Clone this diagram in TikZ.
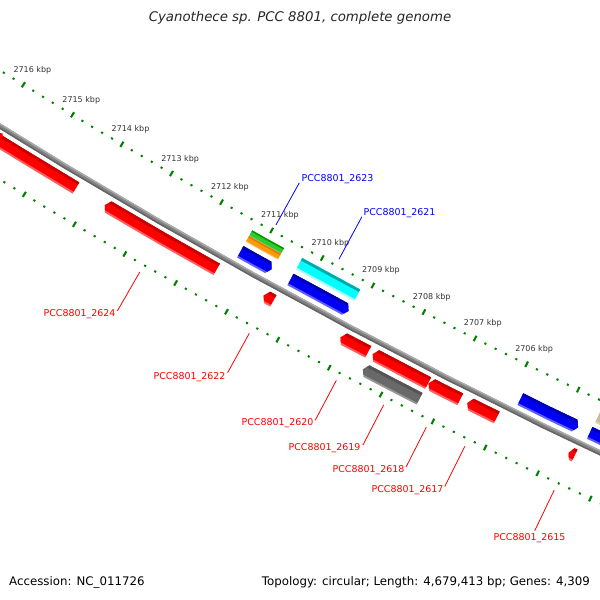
\documentclass[tikz,border=0pt]{standalone}
\usepackage{fontspec}
\setmainfont{DejaVu Sans}
\definecolor{rd}{RGB}{200,0,0}\definecolor{rb}{RGB}{255,0,0}\definecolor{rl}{RGB}{255,95,95}
\definecolor{bd}{RGB}{0,0,175}\definecolor{bb}{RGB}{0,0,245}\definecolor{bl}{RGB}{95,95,255}
\definecolor{cd}{RGB}{0,170,170}\definecolor{cb}{RGB}{0,255,255}\definecolor{cl}{RGB}{170,255,255}
\definecolor{gd}{RGB}{0,150,0}\definecolor{gb}{RGB}{50,200,50}\definecolor{gl}{RGB}{110,220,110}
\definecolor{od}{RGB}{225,120,0}\definecolor{ob}{RGB}{255,153,0}\definecolor{ol}{RGB}{255,190,100}
\definecolor{kd}{RGB}{85,85,85}\definecolor{kb}{RGB}{105,105,105}\definecolor{kl}{RGB}{150,150,150}
\definecolor{yd}{RGB}{160,155,115}\definecolor{yb}{RGB}{195,190,150}\definecolor{yl}{RGB}{215,212,180}
\definecolor{tk}{RGB}{0,128,0}
\definecolor{bbm}{RGB}{130,130,130}\definecolor{bbt}{RGB}{170,170,170}\definecolor{bbd}{RGB}{100,100,100}
\definecolor{labblue}{RGB}{0,0,255}\definecolor{labred}{RGB}{255,0,0}
% feature: #1 left angle, #2 right angle, #3 inner r, #4 outer r, #5 left tip, #6 right tip, #7 dark, #8 base, #9 light
\newcommand\feat[9]{%
 \pgfmathsetmacro\ftm{(#1+#2)/2}%
 \pgfmathsetmacro\ftc{(#3+#4)/2}%
 \pgfmathsetmacro\fta{#1+#5}%
 \pgfmathsetmacro\ftb{#2-#6}%
 \pgfmathsetmacro\ftea{#1+0.15}%
 \pgfmathsetmacro\fteb{#2-0.15}%
 \pgfmathsetmacro\ftd{#3+0.22*(#4-#3)}%
 \pgfmathsetmacro\ftl{#4-0.16*(#4-#3)}%
 \pgfmathsetmacro\ftri{#3-4}\pgfmathsetmacro\ftro{#4+4}%
 \begin{scope}
  \clip (#1:#3) -- (\ftm:#3) -- (#2:#3) -- (\ftb:\ftc) -- (#2:#4) -- (\ftm:#4) -- (#1:#4) -- (\fta:\ftc) -- cycle;
  \fill[#9] (\ftea:\ftri) -- (\ftm:\ftri) -- (\fteb:\ftri) -- (\fteb:\ftro) -- (\ftm:\ftro) -- (\ftea:\ftro) -- cycle;
  \fill[#8] (\ftea:\ftri) -- (\ftm:\ftri) -- (\fteb:\ftri) -- (\fteb:\ftl) -- (\ftm:\ftl) -- (\ftea:\ftl) -- cycle;
  \fill[#7] (\ftea:\ftri) -- (\ftm:\ftri) -- (\fteb:\ftri) -- (\fteb:\ftd) -- (\ftm:\ftd) -- (\ftea:\ftd) -- cycle;
 \end{scope}}
\begin{document}
\begin{tikzpicture}[x=1pt,y=-1pt,
  tickdot/.style={draw=tk,line width=2.1pt},
  ticklab/.style={font=\fontsize{8}{9}\selectfont,text=black!80,inner sep=0pt},
  bluelab/.style={font=\fontsize{9.45}{11}\selectfont,text=labblue,inner sep=0pt},
  redlab/.style={font=\fontsize{9.45}{11}\selectfont,text=labred,inner sep=0pt},
  blueline/.style={draw=labblue,line width=0.8pt},
  redline/.style={draw=labred,line width=0.8pt}]
\path[use as bounding box] (0,0) rectangle (600,600);
\fill[white] (0,0) rectangle (600,600);
\begin{scope}
\clip (0,0) rectangle (600,600);
\begin{scope}[shift={(3287,-5197)}]
 % tick tracks
 \foreach \i in {0,...,70}{
   \pgfmathsetmacro\ang{121.712+0.53136*(1-0.2*\i)}
   \pgfmathtruncatemacro\md{mod(\i,5)}
   \ifnum\md=0
     \draw[tickdot] (\ang:6206) -- (\ang:6212);
     \draw[tickdot] (\ang:6299) -- (\ang:6305);
   \else
     \draw[tickdot] (\ang:6208) -- (\ang:6210);
     \draw[tickdot] (\ang:6301) -- (\ang:6303);
   \fi
 }
 \foreach \k in {2706,...,2716}{
   \pgfmathsetmacro\ang{121.712-0.53136*(2716-\k)}
   \node[ticklab] (t\k) at (\ang:6192) {\k\ kbp};
 }
 % backbone
 \draw[bbm,line width=5pt] plot[domain=114:123,samples=37] (\x:6256.5);
 \draw[bbt,line width=1.4pt] plot[domain=114:123,samples=37] (\x:6254.7);
 \draw[bbd,line width=1.4pt] plot[domain=114:123,samples=37] (\x:6258.3);
 % reverse strand, row 1
 \feat{121.9}{120.807}{6263.5}{6276.5}{0}{0}{rd}{rb}{rl}
 \feat{120.464}{119.322}{6263.5}{6276.5}{0.037}{0}{rd}{rb}{rl}
 \feat{118.794}{118.730}{6263.5}{6276.5}{0.037}{0}{rd}{rb}{rl}
 \feat{117.995}{117.746}{6263.5}{6276.5}{0.037}{0}{rd}{rb}{rl}
 \feat{117.663}{117.128}{6263.5}{6276.5}{0.037}{0}{rd}{rb}{rl}
 \feat{117.086}{116.800}{6263.5}{6276.5}{0.037}{0}{rd}{rb}{rl}
 \feat{116.690}{116.427}{6263.5}{6276.5}{0.037}{0}{rd}{rb}{rl}
 \feat{115.665}{115.635}{6263.5}{6276.5}{0.03}{0}{rd}{rb}{rl}
 % row 2
 \feat{117.677}{117.133}{6281.5}{6294.5}{0.037}{0}{kd}{kb}{kl}
 % forward strand, row -1
 \feat{119.212}{118.919}{6236.5}{6249.5}{0}{0.037}{bd}{bb}{bl}
 \feat{118.686}{118.117}{6236.5}{6249.5}{0}{0.037}{bd}{bb}{bl}
 \feat{116.307}{115.754}{6236.5}{6249.5}{0}{0.037}{bd}{bb}{bl}
 \feat{115.600}{114.9}{6236.5}{6249.5}{0}{0}{bd}{bb}{bl}
 % row -2
 \feat{119.212}{118.877}{6218.5}{6225}{0}{0}{gd}{gb}{gl}
 \feat{119.212}{118.877}{6225}{6231.5}{0}{0}{od}{ob}{ol}
 \feat{118.686}{118.078}{6218.5}{6231.5}{0}{0}{cd}{cb}{cl}
 \feat{115.595}{114.9}{6218.5}{6231.5}{0}{0}{yd}{yb}{yl}
 % leader ends
 \coordinate (s2623) at (119.045:6202); \coordinate (e2623) at (119.045:6154);
 \coordinate (s2621) at (118.383:6202); \coordinate (e2621) at (118.383:6154);
 \coordinate (s2624) at (119.919:6310); \coordinate (e2624) at (119.919:6355);
 \coordinate (s2622) at (118.780:6310); \coordinate (e2622) at (118.780:6355);
 \coordinate (s2620) at (117.882:6310); \coordinate (e2620) at (117.882:6355);
 \coordinate (s2619) at (117.397:6310); \coordinate (e2619) at (117.397:6355);
 \coordinate (s2618) at (116.960:6310); \coordinate (e2618) at (116.960:6355);
 \coordinate (s2617) at (116.569:6310); \coordinate (e2617) at (116.569:6355);
 \coordinate (s2615) at (115.666:6310); \coordinate (e2615) at (115.666:6355);
\end{scope}
\fill[rb] (0,133) -- (2.7,133.5) -- (2.7,137.4) -- (0,137.4) -- cycle;
\draw[blueline] (s2623) -- (e2623);
\draw[blueline] (s2621) -- (e2621);
\foreach \g in {2624,2622,2620,2619,2618,2617,2615}{\draw[redline] (s\g) -- (e\g);}
\end{scope}
% labels
\node[bluelab] (L2623) at (337.5,179) {PCC8801\_2623};
\node[bluelab] (L2621) at (399.5,213) {PCC8801\_2621};
\node[redlab] (L2624) at (79.5,314) {PCC8801\_2624};
\node[redlab] (L2622) at (189.5,377) {PCC8801\_2622};
\node[redlab] (L2620) at (277.5,423) {PCC8801\_2620};
\node[redlab] (L2619) at (324.5,448) {PCC8801\_2619};
\node[redlab] (L2618) at (368.5,470) {PCC8801\_2618};
\node[redlab] (L2617) at (407.5,490) {PCC8801\_2617};
\node[redlab] (L2615) at (529.5,538) {PCC8801\_2615};
% title and footer
\node[font=\fontsize{13.3}{15}\selectfont\itshape,text=black!85,inner sep=0pt] (title) at (300,18) {Cyanothece sp. PCC 8801, complete genome};
\node[font=\fontsize{11.8}{13}\selectfont,anchor=west,inner sep=0pt] (acc) at (9,582) {Accession: NC\_011726};
\node[font=\fontsize{11.8}{13}\selectfont,anchor=east,inner sep=0pt] (topo) at (590,582) {Topology: circular; Length: 4,679,413 bp; Genes: 4,309};
\end{tikzpicture}
\end{document}
